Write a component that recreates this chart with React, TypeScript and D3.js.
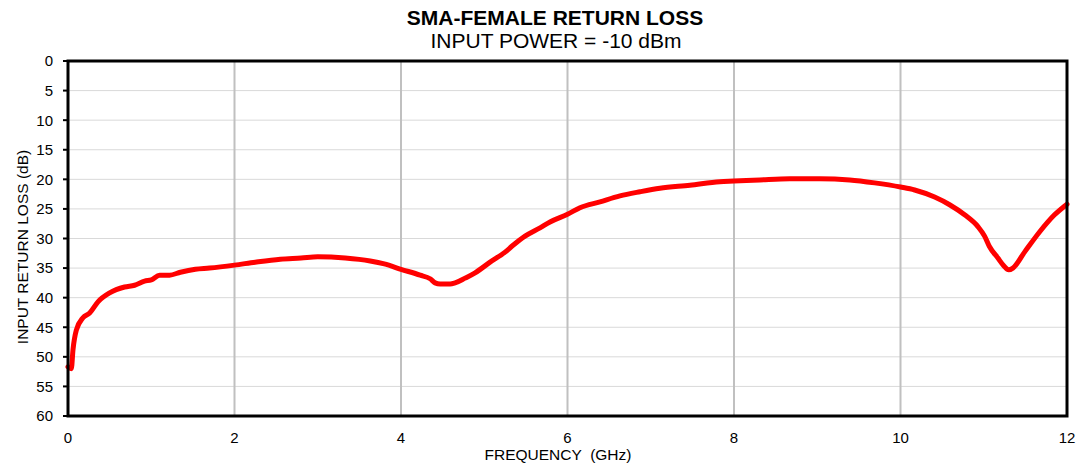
import React from "react";
import * as d3 from "d3";

const freqGHz = [0, 0.04, 0.06, 0.1, 0.18, 0.26, 0.36, 0.5, 0.68, 0.8, 0.92, 1.0, 1.1, 1.22, 1.35, 1.53, 1.7, 2.0, 2.25, 2.55, 2.8, 3.0, 3.33, 3.63, 3.8, 4.0, 4.23, 4.35, 4.41, 4.47, 4.59, 4.65, 4.77, 4.89, 5.07, 5.25, 5.35, 5.49, 5.67, 5.79, 6.0, 6.15, 6.39, 6.63, 6.87, 7.11, 7.47, 7.83, 8.0, 8.31, 8.67, 9.03, 9.39, 9.69, 10.0, 10.17, 10.41, 10.59, 10.77, 10.93, 11.01, 11.07, 11.17, 11.24, 11.3, 11.35, 11.49, 11.67, 11.85, 12.0];
const returnLossDb = [51.7, 52.0, 48.8, 45.5, 43.4, 42.6, 40.7, 39.2, 38.2, 37.9, 37.2, 37.0, 36.2, 36.2, 35.7, 35.2, 35.0, 34.5, 34.0, 33.5, 33.3, 33.1, 33.3, 33.8, 34.3, 35.2, 36.2, 36.8, 37.5, 37.7, 37.7, 37.5, 36.7, 35.8, 34.0, 32.3, 31.1, 29.6, 28.2, 27.2, 25.9, 24.8, 23.8, 22.8, 22.1, 21.5, 21.0, 20.4, 20.3, 20.1, 19.9, 19.9, 20.1, 20.6, 21.3, 21.8, 23.0, 24.3, 26.0, 28.0, 29.6, 31.4, 33.3, 34.6, 35.3, 35.0, 32.3, 28.9, 26.0, 24.2];
const xTicks = [0, 2, 4, 6, 8, 10, 12];
const yTicks = [0, 5, 10, 15, 20, 25, 30, 35, 40, 45, 50, 55, 60];

const W = 1081, H = 467;
const L = 68, R = 1067, T = 61, B = 416;
const FONT = "Arial, 'Liberation Sans', sans-serif";

export default function App() {
  const x = d3.scaleLinear().domain([0, 12]).range([L, R]);
  const y = d3.scaleLinear().domain([0, 60]).range([T, B]);
  const pts = freqGHz.map((f, i) => [f, returnLossDb[i]] as [number, number]);
  const line = d3.line<[number, number]>().x(d => x(d[0])).y(d => y(d[1])).curve(d3.curveMonotoneX);
  const path = line(pts) || "";
  return (
    <svg width={W} height={H} style={{ position: "absolute", left: 0, top: 0 }} fontFamily={FONT}>
      <rect width={W} height={H} fill="#fff" />
      {yTicks.filter(t => t > 0 && t < 60).map(t => (
        <line key={"hy" + t} x1={L} x2={R} y1={y(t)} y2={y(t)} stroke="#d9d9d9" strokeWidth={1} />
      ))}
      {xTicks.filter(t => t > 0 && t < 12).map(t => (
        <line key={"vx" + t} x1={x(t)} x2={x(t)} y1={T} y2={B} stroke="#c0c0c0" strokeWidth={2} />
      ))}
      {yTicks.map(t => (
        <g key={"yt" + t}>
          <line x1={L - 5} x2={L} y1={y(t)} y2={y(t)} stroke="#000" strokeWidth={2} />
          <text x={L - 15} y={y(t)} dy="0.36em" textAnchor="end" fontSize={15} fill="#000">{t}</text>
        </g>
      ))}
      {xTicks.map(t => (
        <text key={"xt" + t} x={x(t)} y={B + 27} textAnchor="middle" fontSize={15} fill="#000">{t}</text>
      ))}
      <path d={path} fill="none" stroke="#ff0000" strokeWidth={5} strokeLinejoin="round" strokeLinecap="round" />
      <rect x={L} y={T} width={R - L} height={B - T} fill="none" stroke="#000" strokeWidth={3} />
      <text x={555} y={25} textAnchor="middle" fontSize={21} fontWeight="bold" fill="#000">SMA-FEMALE RETURN LOSS</text>
      <text x={556} y={48} textAnchor="middle" fontSize={21} fill="#000">INPUT POWER = -10 dBm</text>
      <text x={558} y={460} textAnchor="middle" fontSize={15.5} fill="#000" style={{ whiteSpace: "pre" }}>FREQUENCY  (GHz)</text>
      <text transform={`translate(28,247) rotate(-90)`} textAnchor="middle" fontSize={15.5} fill="#000">INPUT RETURN LOSS (dB)</text>
    </svg>
  );
}
